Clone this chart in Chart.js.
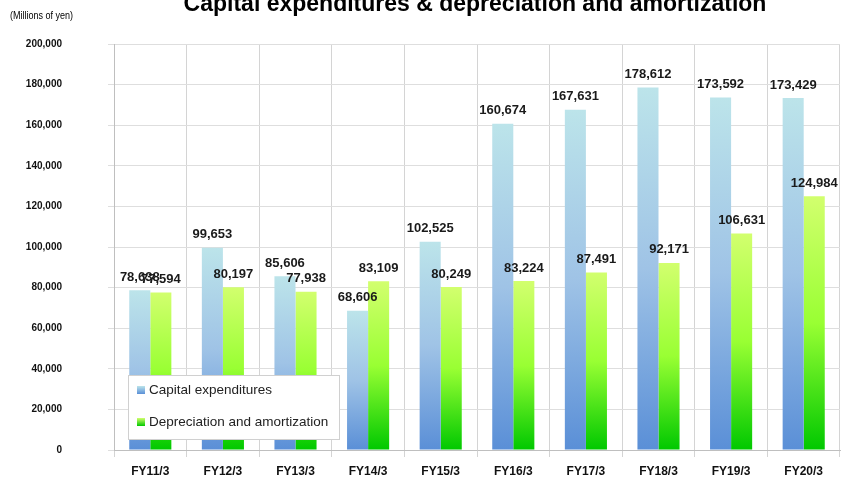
<!DOCTYPE html>
<html>
<head>
<meta charset="utf-8">
<script src="https://cdn.jsdelivr.net/npm/chart.js@4/dist/chart.umd.min.js"></script>
<style>
  body { margin: 0; background: #fff; }
  #wrap { width: 854px; height: 478px; position: relative; }
</style>
</head>
<body>
<div id="wrap"><canvas id="chart"></canvas></div>
<script>
const categories = ['FY11/3', 'FY12/3', 'FY13/3', 'FY14/3', 'FY15/3', 'FY16/3', 'FY17/3', 'FY18/3', 'FY19/3', 'FY20/3']
const capex = [78638, 99653, 85606, 68606, 102525, 160674, 167631, 178612, 173592, 173429]
const depreciation = [77594, 80197, 77938, 83109, 80249, 83224, 87491, 92171, 106631, 124984]
const seriesNames = ['Capital expenditures', 'Depreciation and amortization']
const titleText = 'Capital expenditures & depreciation and amortization'
const unitText = '(Millions of yen)'

const FONT = '"Liberation Sans", Arial, sans-serif'
const blueStops = ['#bce4ea', '#9fc3e6', '#5a8fd7']
const greenStops = ['#d2ff6e', '#99ff33', '#00c800']

function barGradient(context, stops) {
    const chart = context.chart
    if (!chart.chartArea || context.type !== 'data') return stops[2]
    const y = chart.scales.y
    const top = y.getPixelForValue(context.parsed.y)
    const bottom = y.getPixelForValue(0)
    const g = chart.ctx.createLinearGradient(0, top, 0, bottom)
    g.addColorStop(0, stops[0])
    g.addColorStop(0.5, stops[1])
    g.addColorStop(1, stops[2])
    return g
}

function fmt(v) {
    return v.toLocaleString('en-US')
}

// value labels, title, unit and the boxed legend
const extras = {
    id: 'extras',
    afterDatasetsDraw(chart) {
        const ctx = chart.ctx
        ctx.save()
        ctx.fillStyle = '#1a1a1a'
        ctx.font = 'bold 13px ' + FONT
        ctx.textAlign = 'center'
        ctx.textBaseline = 'middle'
        chart.data.datasets.forEach((ds, i) => {
            chart.getDatasetMeta(i).data.forEach((bar, j) => {
                ctx.fillText(fmt(ds.data[j]), bar.x, bar.y - 13)
            })
        })
        ctx.restore()
    },
    afterDraw(chart) {
        const ctx = chart.ctx
        ctx.save()
        ctx.fillStyle = '#000'
        ctx.font = 'bold 23px ' + FONT
        ctx.textAlign = 'center'
        ctx.textBaseline = 'alphabetic'
        ctx.fillText(titleText, 475, 11)

        ctx.font = '10px ' + FONT
        ctx.textAlign = 'left'
        ctx.textBaseline = 'middle'
        ctx.save()
        ctx.translate(10, 16)
        ctx.scale(0.9, 1)
        ctx.fillText(unitText, 0, 0)
        ctx.restore()

        const lx = 128, ly = 375, lw = 211, lh = 64
        ctx.fillStyle = '#fff'
        ctx.fillRect(lx, ly, lw, lh)
        ctx.strokeStyle = '#d0d0d0'
        ctx.lineWidth = 1
        ctx.strokeRect(lx + 0.5, ly + 0.5, lw, lh)
        const stops = [blueStops, greenStops]
        ctx.font = '13.5px ' + FONT
        seriesNames.forEach((name, i) => {
            const cy = ly + 15 + i * 32
            const g = ctx.createLinearGradient(0, cy - 4, 0, cy + 4)
            g.addColorStop(0, stops[i][0])
            g.addColorStop(1, stops[i][2])
            ctx.fillStyle = g
            ctx.fillRect(lx + 9, cy - 4, 8, 8)
            ctx.fillStyle = '#222'
            ctx.fillText(name, lx + 21, cy)
        })
        ctx.restore()
    }
}

new Chart(document.getElementById('chart').getContext('2d'), {
    type: 'bar',
    data: {
        labels: categories,
        datasets: [
            { label: seriesNames[0], data: capex, backgroundColor: (c) => barGradient(c, blueStops), categoryPercentage: 0.58, barPercentage: 1.0 },
            { label: seriesNames[1], data: depreciation, backgroundColor: (c) => barGradient(c, greenStops), categoryPercentage: 0.58, barPercentage: 1.0 }
        ]
    },
    options: {
        responsive: true,
        maintainAspectRatio: false,
        animation: false,
        layout: { padding: { top: 44, right: 14, left: 0, bottom: 0 } },
        plugins: { legend: { display: false }, tooltip: { enabled: false } },
        scales: {
            x: {
                grid: { color: '#d4d4d4', tickLength: 7, offset: true },
                border: { color: '#bfbfbf' },
                ticks: { color: '#111', padding: 7, font: { family: FONT, size: 12, weight: 'bold' } },
                afterFit(scale) { scale.height = 28 }
            },
            y: {
                min: 0, max: 200000,
                grid: { color: '#dedede', tickLength: 6 },
                border: { color: '#bfbfbf' },
                ticks: { stepSize: 20000, color: '#111', padding: 46, font: { family: FONT, size: 10, weight: 'bold' }, callback: (v) => fmt(v) },
                afterFit(scale) {
                    // the big label gap should not push the plot down
                    scale.width = 114
                    scale.paddingTop = 0
                    scale.paddingBottom = 0
                }
            }
        }
    },
    plugins: [extras]
})
</script>
</body>
</html>
